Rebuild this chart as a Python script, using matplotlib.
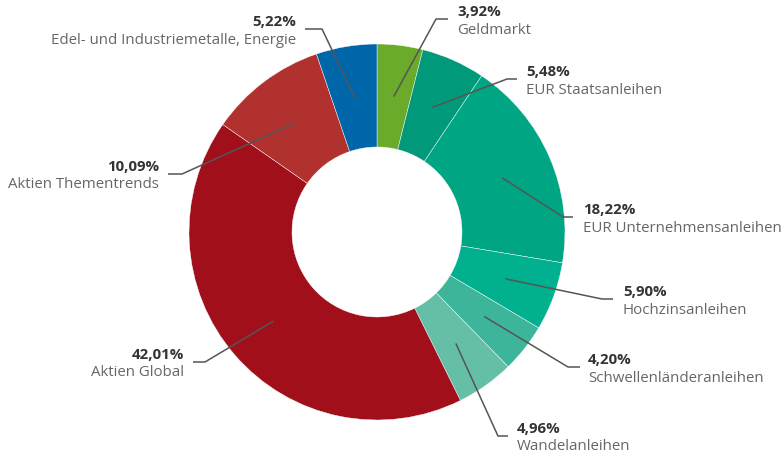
import numpy as np
import matplotlib
matplotlib.use("Agg")
import matplotlib.pyplot as plt

# ---- data ----
categories = ["Geldmarkt", "EUR Staatsanleihen", "EUR Unternehmensanleihen",
              "Hochzinsanleihen", "Schwellenländeranleihen", "Wandelanleihen",
              "Aktien Global", "Aktien Thementrends",
              "Edel- und Industriemetalle, Energie"]
values = [3.92, 5.48, 18.22, 5.90, 4.20, 4.96, 42.01, 10.09, 5.22]
value_labels = ["3,92%", "5,48%", "18,22%", "5,90%", "4,20%", "4,96%",
                "42,01%", "10,09%", "5,22%"]

# ---- style / layout ----
colors = ["#6aab2b", "#009a7a", "#00a584", "#00b08e", "#3db59a", "#65bfa6",
          "#a10f1a", "#b0312e", "#0066aa"]
W, H = 782, 454
cx, cy = 377, H - 232
R_out, R_in = 188, 85
# leader-line elbow (x, y from top), end of horizontal segment x, text x
leaders = [(436, 19, 448, 457), (507, 79, 517, 526), (563, 217, 573, 583),
           (602, 299, 613, 623), (568, 367, 580, 588), (498, 436, 508, 517),
           (205, 362, 193, 184), (182, 174, 168, 159), (322, 29, 305, 296)]

plt.rcParams['font.family'] = ['Open Sans', 'DejaVu Sans']
fig = plt.figure(figsize=(W / 100, H / 100), dpi=100)
ax = fig.add_axes([0, 0, 1, 1])

ax.pie(values, colors=colors, startangle=90, counterclock=False,
       center=(cx, cy), radius=R_out, frame=True,
       wedgeprops=dict(width=R_out - R_in, edgecolor='white', linewidth=0.3))
ax.set_xlim(0, W)
ax.set_ylim(0, H)
ax.set_aspect('equal')
ax.axis('off')

total = sum(values)
cum = 0.0
r_mid = (R_out + R_in) / 2
for v, lab, name, (ex, ey, hx, tx) in zip(values, value_labels, categories, leaders):
    ang = np.deg2rad(90 - 360 * (cum + v / 2) / total)
    cum += v
    px = cx + r_mid * np.cos(ang)
    py = cy + r_mid * np.sin(ang)
    ey_d = H - ey
    ha = 'left' if hx > ex else 'right'
    ax.plot([px, ex, hx], [py, ey_d, ey_d], color='#555555', lw=1.1,
            solid_capstyle='butt', zorder=5)
    ax.text(tx, ey_d + 3, lab, ha=ha, va='baseline', fontsize=10.8,
            fontweight='bold', color='#333333')
    ax.text(tx, ey_d - 14.5, name, ha=ha, va='baseline', fontsize=10.8,
            color='#666666')

fig.savefig("out.png", dpi=100)
